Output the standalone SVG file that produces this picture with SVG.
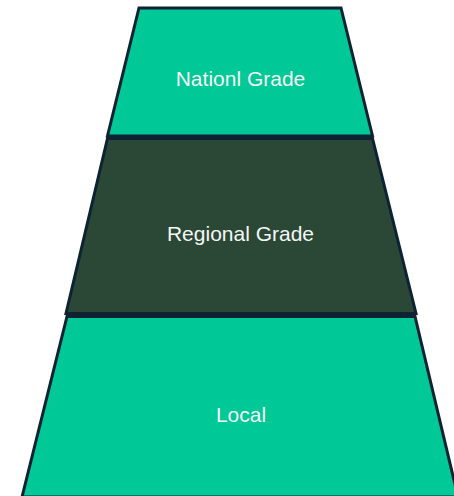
<svg xmlns="http://www.w3.org/2000/svg" width="454" height="496" viewBox="0 0 454 496">
  <style>
    .layer { stroke: #0d2333; stroke-width: 3; stroke-linejoin: miter; }
    .green { fill: #00c896; }
    .dark { fill: #2b4736; }
    .label { font-family: "Liberation Sans", Arial, sans-serif; font-size: 21px; fill: #f4f7f5; text-anchor: middle; }
  </style>
  <rect width="454" height="496" fill="#ffffff"/>
  <g id="national">
    <polygon class="layer green" points="139,8 341,8 372.5,136 107.5,136"/>
    <text class="label" x="240.5" y="86">Nationl Grade</text>
  </g>
  <g id="regional">
    <polygon class="layer dark" points="107.5,138.5 372.5,138.5 416,313.5 66,313.5"/>
    <text class="label" x="240.5" y="241">Regional Grade</text>
  </g>
  <g id="local">
    <polygon class="layer green" points="67,316.5 415,316.5 458,497 22,497"/>
    <text class="label" x="241" y="421.5">Local</text>
  </g>
  <g id="connectors"/>
</svg>
